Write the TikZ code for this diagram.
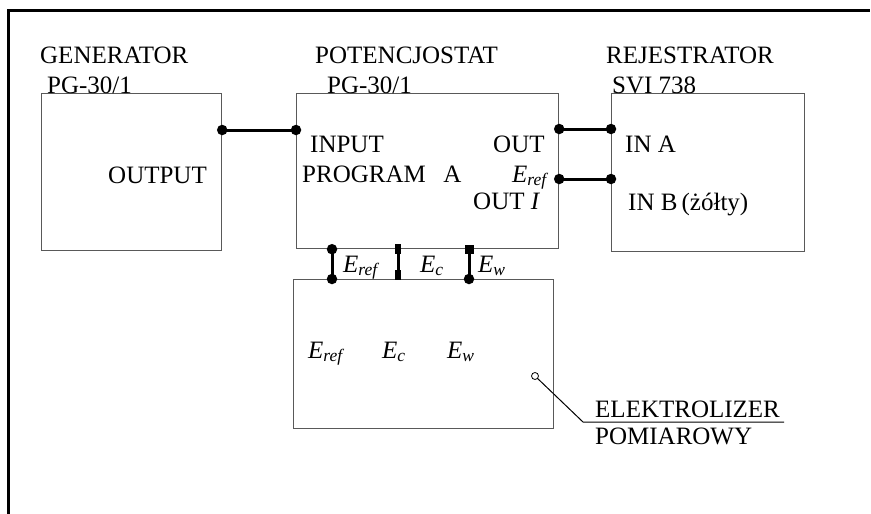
\documentclass[tikz,border=0pt]{standalone}
\usepackage{fontspec}
\setmainfont{Liberation Serif}

\newcommand{\Eidx}[1]{\textit{E}\textsubscript{\textit{#1}}}

\begin{document}
\begin{tikzpicture}[
  x=1pt,y=-1pt,
  box/.style={draw=black!65,line width=1.2pt,anchor=north west,inner sep=0pt},
  wire/.style={line width=3pt},
  dot/.style={circle,fill,inner sep=0pt,minimum size=10.5pt},
  tab/.style={fill,inner sep=0pt,minimum width=6pt,minimum height=10pt},
  sq/.style={fill,inner sep=0pt,minimum size=9pt},
  lbl/.style={anchor=base west,inner sep=0pt},
  every node/.append style={font=\fontsize{25}{29}\selectfont}
]
  \useasboundingbox (0,0) rectangle (871,514);
  % frame
  \draw[line width=3pt] (8,514) -- (8,10) -- (870,10);

  % blocks
  \node[box,minimum width=180pt,minimum height=157pt] (gen) at (41,93) {};
  \node[box,minimum width=262pt,minimum height=155pt] (pot) at (296,93) {};
  \node[box,minimum width=193pt,minimum height=158pt] (rej) at (611,93) {};
  \node[box,minimum width=260pt,minimum height=149pt] (ele) at (293,279) {};

  % titles
  \node[lbl] (gentitle) at (40,63) {GENERATOR};
  \node[lbl] (gentype) at (47,93) {PG-30/1};
  \node[lbl] (pottitle) at (315,63) {POTENCJOSTAT};
  \node[lbl] (pottype) at (327,93) {PG-30/1};
  \node[lbl] (rejtitle) at (606,63) {REJESTRATOR};
  \node[lbl] (rejtype) at (612,93) {SVI 738};

  % texts inside blocks
  \node[lbl] (genout) at (108,183) {OUTPUT};
  \node[lbl] (potin) at (310,152) {INPUT};
  \node[lbl] (potprog) at (302,182) {PROGRAM\hspace{0.7em}A};
  \node[lbl] (potouta) at (493,152) {OUT};
  \node[lbl] (potref) at (512,182) {\Eidx{ref}};
  \node[lbl] (potouti) at (473,209) {OUT \textit{I}};
  \node[lbl] (rejina) at (625,152) {IN A};
  \node[lbl] (rejinb) at (628,210) {IN B\,(żółty)};
  \node[lbl] (eleref) at (308,358) {\Eidx{ref}};
  \node[lbl] (elec) at (382,358) {\Eidx{c}};
  \node[lbl] (elew) at (447,358) {\Eidx{w}};

  % pins on block edges
  \path (gen.north east) ++(0,37) coordinate (g1);
  \path (pot.north west) ++(0,37) coordinate (p1);
  \path (pot.north east) ++(0,36) coordinate (p2);
  \path (pot.north east) ++(0,86) coordinate (p3);
  \path (rej.north west) ++(0,36) coordinate (r1);
  \path (rej.north west) ++(0,86) coordinate (r2);
  \path (pot.south west) ++(36,0) coordinate (p4);
  \path (pot.south west) ++(102,0) coordinate (p5);
  \path (pot.south west) ++(173,0) coordinate (p6);
  \path (ele.north west) ++(39,0) coordinate (e1);
  \path (ele.north west) ++(105,0) coordinate (e2);
  \path (ele.north west) ++(176,0) coordinate (e3);

  % connections
  \draw[wire] (g1) -- (p1);
  \draw[wire] (p2) -- (r1);
  \draw[wire] (p3) -- (r2);
  \draw[wire] (p4) -- (e1);
  \draw[wire] (p5) -- (e2);
  \draw[wire] (p6) -- (e3);
  \foreach \p in {g1,p1,p2,p3,r1,r2,p4,e1,e3}
    \node[dot] at (\p) {};
  \node[tab] at (p5) {};
  \node[tab] at ([yshift=4pt]e2) {};
  \node[sq] at (p6) {};

  % connection labels
  \node[lbl] (wref) at (343,272) {\Eidx{ref}};
  \node[lbl] (wc) at (420,272) {\Eidx{c}};
  \node[lbl] (ww) at (478,272) {\Eidx{w}};

  % electrolyser callout
  \node[circle,draw,inner sep=0pt,minimum size=7pt,line width=0.8pt] (mark) at (535,376) {};
  \coordinate (bend) at (583,422);
  \coordinate (lineend) at (784,422);
  \draw[line width=1pt] (mark) -- (bend) -- (lineend);
  \node[lbl] (eletitle) at (595,417) {ELEKTROLIZER};
  \node[lbl] (eletype) at (595,444) {POMIAROWY};
\end{tikzpicture}
\end{document}
